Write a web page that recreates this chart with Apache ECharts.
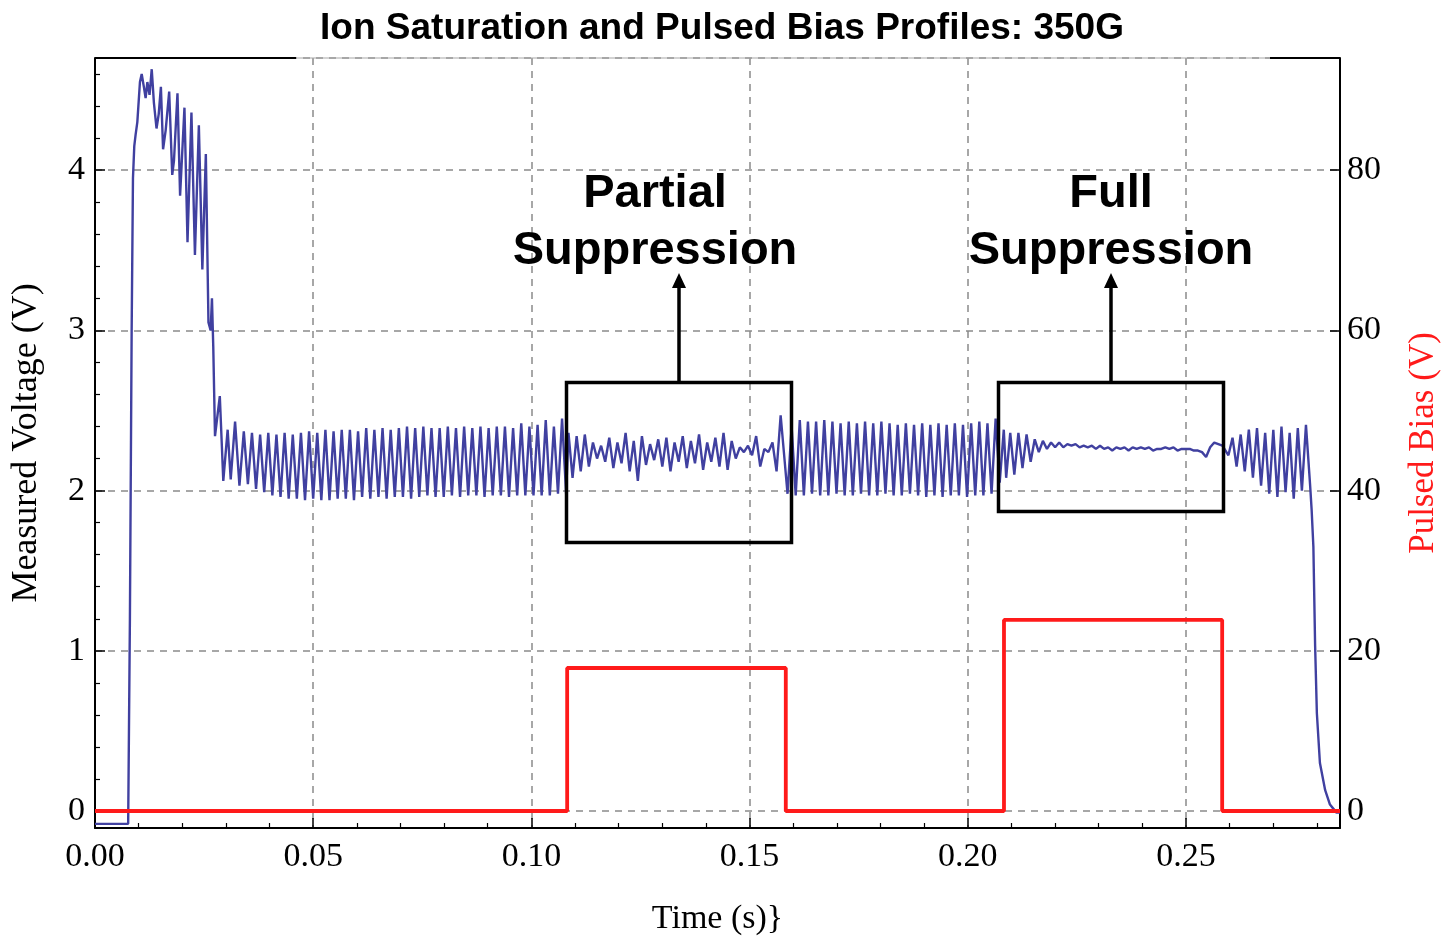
<!DOCTYPE html>
<html>
<head>
<meta charset="utf-8">
<script src="https://cdn.jsdelivr.net/npm/echarts@6/dist/echarts.min.js"></script>
<style>
html,body{margin:0;padding:0;background:#fff;}
#chart{width:1444px;height:936px;}
</style>
</head>
<body>
<div id="chart"></div>
<script>
// ---------- data ----------
const chartTitle = 'Ion Saturation and Pulsed Bias Profiles: 350G';
const xAxisName = 'Time (s)}';
const leftAxisName = 'Measured Voltage (V)';
const rightAxisName = 'Pulsed Bias (V)';
const xMin = 0, xMax = 0.2853;
const leftMin = -0.106, leftMax = 4.70;
const rightMin = -2.12, rightMax = 94.0;

// start-up of the probe signal (time s, voltage V)
const riseTimes = [0, 0.0076, 0.0080, 0.0084, 0.0087, 0.0090, 0.0093, 0.0097, 0.0103, 0.0107, 0.0112, 0.0116, 0.0120, 0.0125, 0.0130, 0.0135, 0.0141, 0.0146, 0.0151, 0.0156, 0.0162, 0.0170, 0.0177, 0.0181, 0.0189, 0.0195, 0.0205, 0.0212, 0.0221, 0.0229, 0.0238, 0.0246, 0.0254, 0.0260, 0.0265, 0.0268, 0.0271, 0.0275, 0.0286, 0.0294, 0.0304, 0.0311, 0.0321, 0.0331];
const riseValues = [-0.08, -0.08, 1.2, 3.0, 3.95, 4.15, 4.22, 4.30, 4.55, 4.60, 4.52, 4.45, 4.55, 4.47, 4.63, 4.42, 4.26, 4.35, 4.52, 4.13, 4.25, 4.49, 3.97, 4.06, 4.48, 3.84, 4.39, 3.55, 4.36, 3.47, 4.28, 3.38, 4.10, 3.05, 3.00, 3.20, 2.90, 2.34, 2.59, 2.06, 2.38, 2.07, 2.43, 2.03];

// sampled peaks/troughs of the oscillation (half-period sampling step)
const oscStep = 0.000935;
const osc1Start = 0.0341;
const osc1Values = [2.37,2.04, 2.36,2.01, 2.35,1.99, 2.36,1.97, 2.35,1.96, 2.36,1.95, 2.35,1.95, 2.36,1.94, 2.37,1.95, 2.36,1.94,
  2.38,1.94, 2.37,1.95, 2.38,1.95, 2.38,1.94, 2.37,1.96, 2.39,1.95, 2.38,1.96, 2.39,1.95, 2.38,1.96, 2.39,1.96,
  2.40,1.95, 2.39,1.96, 2.40,1.97, 2.39,1.96, 2.39,1.96, 2.40,1.97, 2.39,1.96, 2.40,1.97, 2.39,1.97, 2.40,1.96,
  2.39,1.97, 2.40,1.97, 2.40,1.96, 2.39,1.97, 2.42,1.97, 2.40,1.97, 2.41,1.97, 2.44,1.97, 2.40,1.98, 2.45,1.98];
const partialStart = 0.1085;
const partialValues = [2.36,2.08, 2.34,2.12, 2.35,2.15, 2.30,2.20, 2.28,2.18, 2.33,2.14, 2.30,2.17, 2.36,2.12, 2.31,2.06,
  2.34,2.16, 2.29,2.19, 2.32,2.15, 2.33,2.12, 2.30,2.18, 2.34,2.14, 2.31,2.17, 2.35,2.13, 2.30,2.18,
  2.33,2.15, 2.36,2.13, 2.31,2.20, 2.27,2.24, 2.28,2.22, 2.34,2.15, 2.26,2.24, 2.30,2.12, 2.47,2.18];
const osc2Start = 0.1587;
const osc2Values = [1.98,2.40, 1.97,2.44, 1.97,2.43, 1.98,2.43, 1.97,2.44, 1.97,2.43, 1.98,2.42, 1.97,2.43, 1.97,2.42,
  1.98,2.43, 1.97,2.42, 1.97,2.43, 1.98,2.42, 1.97,2.41, 1.97,2.42, 1.98,2.41, 1.97,2.42, 1.96,2.41,
  1.97,2.42, 1.96,2.41, 1.97,2.42, 1.97,2.41, 1.96,2.42, 1.97,2.43, 1.97,2.42, 1.98,2.45, 2.05,2.38];
const fullStart = 0.2088;
const fullValues = [2.08,2.36, 2.10,2.36, 2.14,2.35, 2.18,2.32, 2.24,2.31, 2.26,2.30, 2.27,2.30, 2.27,2.29, 2.28,2.29,
  2.27,2.28, 2.27,2.28, 2.26,2.28, 2.26,2.27, 2.25,2.27, 2.26,2.27, 2.25,2.27, 2.26,2.27, 2.26,2.27,
  2.25,2.26, 2.26,2.27, 2.26,2.27, 2.25,2.26, 2.26,2.26, 2.25,2.25, 2.24,2.21, 2.27,2.30, 2.29,2.28];
const osc3Start = 0.2588;
const osc3Values = [2.28,2.22, 2.33,2.15, 2.35,2.12, 2.38,2.08, 2.39,2.03, 2.36,1.98, 2.38,1.96, 2.40,1.99, 2.36,1.95, 2.39,2.00, 2.41,2.04];

// shut-down of the probe signal
const fallTimes = [0.2788, 0.2792, 0.2796, 0.2800, 0.2807, 0.2819, 0.2830, 0.2845, 0.2853];
const fallValues = [1.88, 1.65, 1.03, 0.61, 0.30, 0.13, 0.04, -0.01, -0.01];

// pulsed bias (step profile)
const biasTimes = [0, 0.1082, 0.1082, 0.1583, 0.1583, 0.2083, 0.2083, 0.2583, 0.2583, 0.2853];
const biasLevels = [0, 0, 17.85, 17.85, 0, 0, 23.85, 23.85, 0, 0];

// annotation texts
const annoPartial = 'Partial\nSuppression';
const annoFull = 'Full\nSuppression';

// ---------- build series data ----------
function pairs(ts, vs){ return ts.map((t,i)=>[t, vs[i]]); }
function sampled(start, vals){ return vals.map((v,i)=>[+(start + i*oscStep).toFixed(6), v]); }
const probeData = [].concat(
  pairs(riseTimes, riseValues),
  sampled(osc1Start, osc1Values),
  sampled(partialStart, partialValues),
  sampled(osc2Start, osc2Values),
  sampled(fullStart, fullValues),
  sampled(osc3Start, osc3Values),
  pairs(fallTimes, fallValues)
);
const biasData = pairs(biasTimes, biasLevels);

// ---------- chart ----------
const serif = "'Liberation Serif','DejaVu Serif',serif";
const sans = "'Liberation Sans',Arial,sans-serif";
const chart = echarts.init(document.getElementById('chart'), null, {renderer:'canvas'});
const gridLine = {show:true, lineStyle:{type:[7,6], color:'#8a8a8a', width:1.5}};
const isMult = (v, step) => Math.abs(v/step - Math.round(v/step)) < 1e-6;

chart.setOption({
  backgroundColor:'#fff',
  animation:false,
  title:{
    text: chartTitle, left:'center', top:5,
    textStyle:{fontFamily:sans, fontWeight:'bold', fontSize:37, color:'#000'}
  },
  grid:{left:95, right:104, top:58, bottom:108, show:false, containLabel:false, outerBoundsMode:'none'},
  xAxis:[{
    type:'value', min:xMin, max:xMax, interval:0.05,
    axisLine:{show:true, onZero:false, lineStyle:{color:'#000', width:2}},
    axisTick:{show:true, inside:true, length:10, lineStyle:{color:'#000', width:1.5}},
    minorTick:{show:true, splitNumber:5, length:5, lineStyle:{color:'#000', width:1.2}},
    axisLabel:{formatter:v => isMult(v,0.05) ? v.toFixed(2) : '', fontFamily:serif, fontSize:34, color:'#000', margin:12},
    splitLine:gridLine,
    name:xAxisName, nameLocation:'middle', nameGap:74,
    nameTextStyle:{fontFamily:serif, fontSize:34, color:'#000'}
  }],
  yAxis:[{
    type:'value', min:leftMin, max:leftMax, splitNumber:5, position:'left',
    axisLine:{show:true, onZero:false, lineStyle:{color:'#000', width:2}},
    axisTick:{show:true, inside:true, length:10, lineStyle:{color:'#000', width:1.5}},
    minorTick:{show:true, splitNumber:5, length:5, lineStyle:{color:'#000', width:1.2}},
    axisLabel:{formatter:v => isMult(v,1) ? String(Math.round(v)) : '', fontFamily:serif, fontSize:34, color:'#000', margin:10},
    splitLine:gridLine,
    name:leftAxisName, nameLocation:'middle', nameGap:50, nameRotate:90,
    nameTextStyle:{fontFamily:serif, fontSize:36, color:'#000'}
  },{
    type:'value', min:rightMin, max:rightMax, splitNumber:5, position:'right',
    axisLine:{show:true, onZero:false, lineStyle:{color:'#000', width:2}},
    axisTick:{show:true, inside:true, length:10, lineStyle:{color:'#000', width:1.5}},
    axisLabel:{formatter:v => isMult(v,20) ? String(Math.round(v)) : '', fontFamily:serif, fontSize:34, color:'#000', margin:7},
    splitLine:{show:false},
    name:rightAxisName, nameLocation:'middle', nameGap:66, nameRotate:90,
    nameTextStyle:{fontFamily:serif, fontSize:35, color:'#ff1a1a'}
  }],
  series:[{
    name:'Measured Voltage', type:'line', yAxisIndex:0, data:probeData,
    showSymbol:false, smooth:false, lineStyle:{color:'#4040a0', width:2.4}, z:3
  },{
    name:'Pulsed Bias', type:'line', yAxisIndex:1, data:biasData,
    showSymbol:false, lineStyle:{color:'#ff1a1a', width:3.8}, z:4
  }],
  graphic:[
    // top frame
    {type:'line', z:100, shape:{x1:95, y1:58, x2:296, y2:58}, style:{stroke:'#000', lineWidth:2}},
    {type:'line', z:100, shape:{x1:296, y1:58, x2:1270, y2:58}, style:{stroke:'#a8a8a8', lineWidth:1.2}},
    {type:'line', z:100, shape:{x1:1270, y1:58, x2:1340, y2:58}, style:{stroke:'#000', lineWidth:2}},
    // boxes
    {type:'rect', z:100, shape:{x:566.5, y:382.5, width:225, height:160}, style:{fill:null, stroke:'#000', lineWidth:3.5}},
    {type:'rect', z:100, shape:{x:998.5, y:382.5, width:225, height:129}, style:{fill:null, stroke:'#000', lineWidth:3.5}},
    // arrows
    {type:'line', z:100, shape:{x1:679, y1:382, x2:679, y2:284}, style:{stroke:'#000', lineWidth:3.5}},
    {type:'polygon', z:100, shape:{points:[[679,273],[672,288],[686,288]]}, style:{fill:'#000'}},
    {type:'line', z:100, shape:{x1:1111, y1:382, x2:1111, y2:284}, style:{stroke:'#000', lineWidth:3.5}},
    {type:'polygon', z:100, shape:{points:[[1111,273],[1104,288],[1118,288]]}, style:{fill:'#000'}},
    // annotation texts
    {type:'text', z:100, x:655, y:166, style:{text:annoPartial, fontFamily:sans, fontWeight:'bold', fontSize:47, lineHeight:57, fill:'#000', align:'center'}},
    {type:'text', z:100, x:1111, y:166, style:{text:annoFull, fontFamily:sans, fontWeight:'bold', fontSize:47, lineHeight:57, fill:'#000', align:'center'}}
  ]
});
</script>
</body>
</html>
